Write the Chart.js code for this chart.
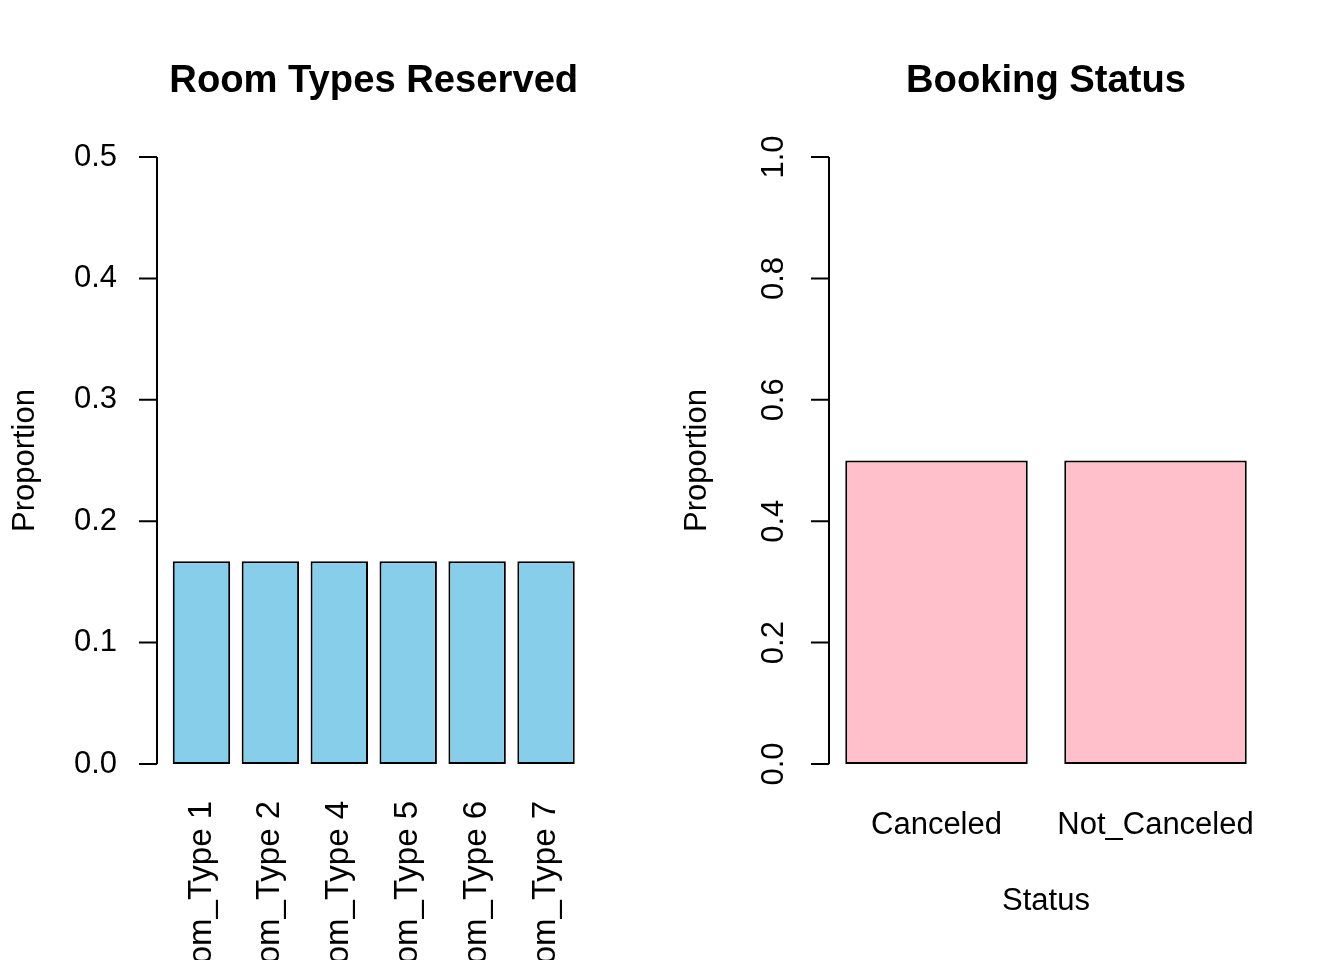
<!DOCTYPE html>
<html>
<head>
<meta charset="utf-8">
<script src="https://cdn.jsdelivr.net/npm/chart.js@4.4.1/dist/chart.umd.min.js"></script>
<style>
  html, body { margin: 0; padding: 0; background: #fff; }
  #wrap { position: relative; width: 1344px; height: 960px; overflow: hidden; }
  canvas { position: absolute; top: 0; }
  #roomChart { left: 0; }
  #statusChart { left: 672px; }
</style>
</head>
<body>
<div id="wrap">
  <canvas id="roomChart" width="672" height="960"></canvas>
  <canvas id="statusChart" width="672" height="960"></canvas>
</div>
<script>
// ---------- data ----------
const roomTypes = ["Room_Type 1", "Room_Type 2", "Room_Type 4", "Room_Type 5", "Room_Type 6", "Room_Type 7"];
const roomProportions = [0.167, 0.167, 0.167, 0.167, 0.167, 0.167];
const roomYMax = 0.5;
const roomYStep = 0.1;

const statusLabels = ["Canceled", "Not_Canceled"];
const statusProportions = [0.5, 0.5];
const statusYMax = 1.0;
const statusYStep = 0.2;

// ---------- look ----------
const FONT = "'Liberation Sans', Arial, sans-serif";
Chart.defaults.font.family = FONT;
Chart.defaults.color = "#000";
Chart.defaults.animation = false;

// R-style y axis: line only between first and last tick, ticks pointing out
const rAxis = {
  id: "rAxis",
  afterDraw(chart, args, opts) {
    const y = chart.scales.y;
    const ctx = chart.ctx;
    const x0 = chart.chartArea.left - opts.gap;
    ctx.save();
    ctx.strokeStyle = "#000";
    ctx.lineWidth = 2;
    ctx.beginPath();
    ctx.moveTo(x0, y.getPixelForValue(y.max));
    ctx.lineTo(x0, y.getPixelForValue(y.min));
    y.ticks.forEach((t) => {
      const py = y.getPixelForValue(t.value);
      ctx.moveTo(x0, py);
      ctx.lineTo(x0 - 18, py);
    });
    ctx.stroke();
    ctx.restore();
  },
};

function makeChart(id, cfg) {
  return new Chart(document.getElementById(id), {
    type: "bar",
    data: {
      labels: cfg.labels,
      datasets: [
        {
          data: cfg.values,
          backgroundColor: cfg.fill,
          borderColor: "#000",
          borderWidth: 2,
          borderSkipped: false,
          categoryPercentage: 1,
          barPercentage: 1 / 1.2,
        },
      ],
    },
    plugins: [rAxis],
    options: {
      responsive: false,
      layout: { padding: { left: 6.4, right: cfg.padRight, top: 0, bottom: 0 } },
      plugins: {
        legend: { display: false },
        tooltip: { enabled: false },
        rAxis: { gap: cfg.axisGap },
        title: {
          display: true,
          text: cfg.title,
          fullSize: false,
          font: { size: 38.2, weight: "bold", lineHeight: 1.2 },
          color: "#000",
          padding: { top: 59, bottom: 52.2 },
        },
      },
      scales: {
        x: {
          // runs to the bottom edge so the long rotated names are cut there, as in the original
          afterFit: (s) => { s.height = 196; },
          grid: { display: false, drawTicks: false },
          border: { display: false },
          ticks: {
            autoSkip: false,
            color: "#000",
            font: { size: cfg.xFont },
            minRotation: cfg.xRotation,
            maxRotation: cfg.xRotation,
            padding: cfg.xPadding,
          },
          title: {
            display: !!cfg.xTitle,
            text: cfg.xTitle || "",
            color: "#000",
            font: { size: 31, lineHeight: 1.2 },
            padding: { top: 0, bottom: 39.6 },
          },
        },
        y: {
          min: 0,
          max: cfg.yMax,
          afterFit: (s) => { s.width = cfg.yWidth; },
          grid: { display: false, drawTicks: false },
          border: { display: false },
          ticks: {
            stepSize: cfg.yStep,
            autoSkip: false,
            color: "#000",
            font: { size: 31 },
            padding: cfg.yPadding,
            minRotation: cfg.yRotation,
            maxRotation: cfg.yRotation,
            crossAlign: cfg.yCrossAlign,
            callback: (v) => Number(v).toFixed(1),
          },
          title: {
            display: true,
            text: "Proportion",
            color: "#000",
            font: { size: 31, lineHeight: 1.2 },
            padding: 0,
          },
        },
      },
    },
  });
}

makeChart("roomChart", {
  labels: roomTypes,
  values: roomProportions,
  fill: "#87CEEB",
  title: "Room Types Reserved",
  yMax: roomYMax,
  yStep: roomYStep,
  yWidth: 160.6,
  yPadding: 50,
  yRotation: 0,
  yCrossAlign: "near",
  axisGap: 10,
  padRight: 91.5,
  xRotation: 90,
  xFont: 33,
  xPadding: 37,
  xTitle: null,
});

makeChart("statusChart", {
  labels: statusLabels,
  values: statusProportions,
  fill: "#FFC0CB",
  title: "Booking Status",
  yMax: statusYMax,
  yStep: statusYStep,
  yWidth: 148.6,
  yPadding: 30.5,
  yRotation: 90,
  yCrossAlign: "center",
  axisGap: -2,
  padRight: 79,
  xRotation: 0,
  xFont: 31,
  xPadding: 43,
  xTitle: "Status",
});
</script>
</body>
</html>
